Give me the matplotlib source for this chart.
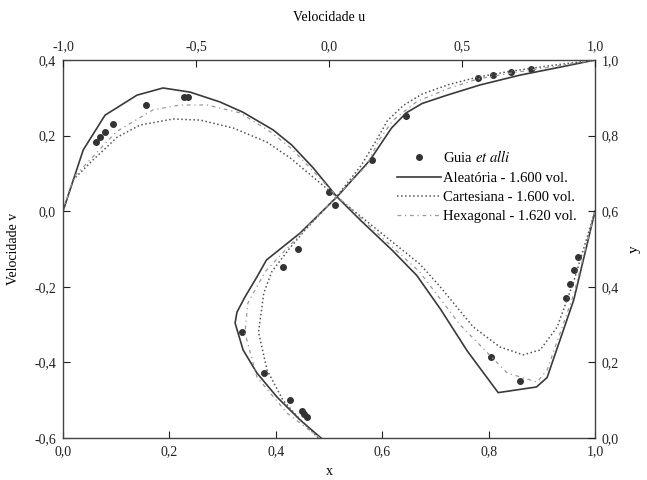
import numpy as np
import matplotlib
matplotlib.use("Agg")
from matplotlib import pyplot as plt
from matplotlib.ticker import FuncFormatter

plt.rcParams['font.family'] = ['Liberation Serif', 'DejaVu Serif']
plt.rcParams['mathtext.fontset'] = 'stix'

# v-velocity along horizontal centre line (x, v)
ghia_x = [0.0625, 0.0703, 0.0781, 0.0938, 0.1563, 0.2266, 0.2344, 0.5,
          0.8047, 0.8594, 0.9453, 0.9531, 0.9609, 0.9688]
ghia_v = [0.1836, 0.19713, 0.2092, 0.22965, 0.28124, 0.30203, 0.30174, 0.05186,
          -0.38598, -0.44993, -0.22847, -0.19254, -0.15663, -0.12146]

alea_x = [0.0, 0.038, 0.079, 0.139, 0.188, 0.239, 0.295, 0.338, 0.395, 0.43, 0.47,
          0.515, 0.56, 0.62, 0.665, 0.71, 0.76, 0.818, 0.89, 0.91, 0.96, 1.0]
alea_v = [0.0, 0.162, 0.254, 0.307, 0.326, 0.315, 0.289, 0.262, 0.215, 0.175, 0.115,
          0.038, -0.025, -0.105, -0.17, -0.26, -0.37, -0.48, -0.465, -0.44, -0.235, 0.0]

cart_x = [0.0, 0.019, 0.056, 0.102, 0.145, 0.207, 0.258, 0.32, 0.383, 0.427, 0.517,
          0.6, 0.671, 0.709, 0.771, 0.821, 0.865, 0.897, 0.929, 0.959, 1.0]
cart_v = [0.0, 0.083, 0.135, 0.196, 0.228, 0.244, 0.241, 0.22, 0.183, 0.141, 0.035,
          -0.06, -0.14, -0.2, -0.306, -0.359, -0.38, -0.367, -0.306, -0.19, 0.0]

hexa_x = [0.0, 0.02, 0.06, 0.1, 0.169, 0.22, 0.271, 0.333, 0.39, 0.43, 0.517,
          0.6, 0.67, 0.746, 0.835, 0.891, 0.91, 0.96, 1.0]
hexa_v = [0.0, 0.09, 0.15, 0.21, 0.268, 0.281, 0.281, 0.26, 0.21, 0.165, 0.037,
          -0.07, -0.16, -0.3, -0.428, -0.452, -0.42, -0.22, 0.0]

# u-velocity along vertical centre line (u, y)
ghia_u = [-0.09266, -0.08186, -0.10338, -0.14612, -0.24299, -0.32726, -0.17119,
          -0.11477, 0.02135, 0.16256, 0.29093, 0.55892, 0.61756, 0.68439, 0.75837]
ghia_y = [0.0625, 0.0547, 0.0703, 0.1016, 0.1719, 0.2813, 0.4531,
          0.5, 0.6172, 0.7344, 0.8516, 0.9531, 0.9609, 0.9688, 0.9766]

alea_u = [-0.03, -0.109, -0.195, -0.271, -0.323, -0.353, -0.346, -0.316, -0.271, -0.235,
          -0.109, 0.03, 0.154, 0.192, 0.235, 0.29, 0.35, 0.444, 0.568, 0.718, 0.868, 1.0]
alea_y = [0.0, 0.048, 0.108, 0.172, 0.233, 0.304, 0.333, 0.373, 0.426, 0.471,
          0.542, 0.638, 0.735, 0.775, 0.82, 0.86, 0.885, 0.907, 0.934, 0.96, 0.981, 1.0]

cart_u = [-0.04, -0.11, -0.173, -0.233, -0.265, -0.245, -0.215, -0.15, -0.09, 0.03,
          0.12, 0.18, 0.22, 0.28, 0.35, 0.45, 0.56, 0.68, 0.82, 1.0]
cart_y = [0.0, 0.05, 0.1, 0.18, 0.28, 0.384, 0.44, 0.5, 0.55, 0.64,
          0.72, 0.79, 0.84, 0.88, 0.91, 0.935, 0.955, 0.97, 0.984, 1.0]

hexa_u = [-0.035, -0.158, -0.271, -0.316, -0.305, -0.24, -0.16, -0.08, 0.03, 0.14,
          0.19, 0.24, 0.33, 0.45, 0.56, 0.68, 0.82, 1.0]
hexa_y = [0.0, 0.066, 0.161, 0.278, 0.357, 0.44, 0.5, 0.56, 0.64, 0.72,
          0.79, 0.84, 0.89, 0.925, 0.95, 0.965, 0.98, 1.0]

labels = ["Guia $\\it{et\\ alli}$", "Aleatória - 1.600 vol.",
          "Cartesiana - 1.600 vol.", "Hexagonal - 1.620 vol."]

comma = FuncFormatter(lambda val, pos: f"{val:.1f}".replace('.', ','))

fig = plt.figure(figsize=(6.47, 4.8), dpi=100)
pos = [63/647, 1-438/480, 532/647, 378/480]
ax = fig.add_axes(pos)
ax2 = fig.add_axes(pos, frameon=False)

# v curves on bottom/left axes
ax.plot(ghia_x, ghia_v, 'o', color='#333333', markersize=4, label=labels[0])
ax.plot(alea_x, alea_v, '-', color='#3a3a3a', lw=1.2, label=labels[1])
ax.plot(cart_x, cart_v, ':', color='#555555', lw=1.1, label=labels[2])
ax.plot(hexa_x, hexa_v, '-.', color='#9a9a9a', lw=0.9, dashes=(3, 3, 1, 3), label=labels[3])

# u curves on top/right axes
ax2.plot(ghia_u, ghia_y, 'o', color='#333333', markersize=4)
ax2.plot(alea_u, alea_y, '-', color='#3a3a3a', lw=1.2)
ax2.plot(cart_u, cart_y, ':', color='#555555', lw=1.1)
ax2.plot(hexa_u, hexa_y, '-.', color='#9a9a9a', lw=0.9, dashes=(3, 3, 1, 3))

ax.set_xlim(0, 1)
ax.set_ylim(-0.6, 0.4)
ax.set_xticks(np.arange(0, 1.01, 0.2))
ax.set_yticks(np.arange(-0.6, 0.41, 0.2))
ax2.set_xlim(-1, 1)
ax2.set_ylim(0, 1)
ax2.set_xticks([-1, -0.5, 0, 0.5, 1])
ax2.set_yticks(np.arange(0, 1.01, 0.2))
ax2.xaxis.tick_top()
ax2.yaxis.tick_right()
ax2.xaxis.set_label_position('top')
ax2.yaxis.set_label_position('right')

for a in (ax, ax2):
    a.xaxis.set_major_formatter(comma)
    a.yaxis.set_major_formatter(comma)
    a.tick_params(direction='in', length=5, width=0.8, labelsize=10, colors='#222222', pad=5)
for s in ax.spines.values():
    s.set_linewidth(1.0)
    s.set_color('#444444')

ax.set_xlabel("x", fontsize=10, labelpad=5)
ax.set_ylabel("Velocidade v", fontsize=10, labelpad=10)
ax2.set_xlabel("Velocidade u", fontsize=10, labelpad=14)
ax2.set_ylabel("y", fontsize=11, labelpad=6, rotation=90)

ax.legend(loc='upper left', bbox_to_anchor=(390/647, 1-142/480), bbox_transform=fig.transFigure,
          frameon=False, fontsize=10.5, handlelength=3.0, handletextpad=0.15, labelspacing=0.42,
          borderpad=0)

fig.savefig("out.png", dpi=100)
